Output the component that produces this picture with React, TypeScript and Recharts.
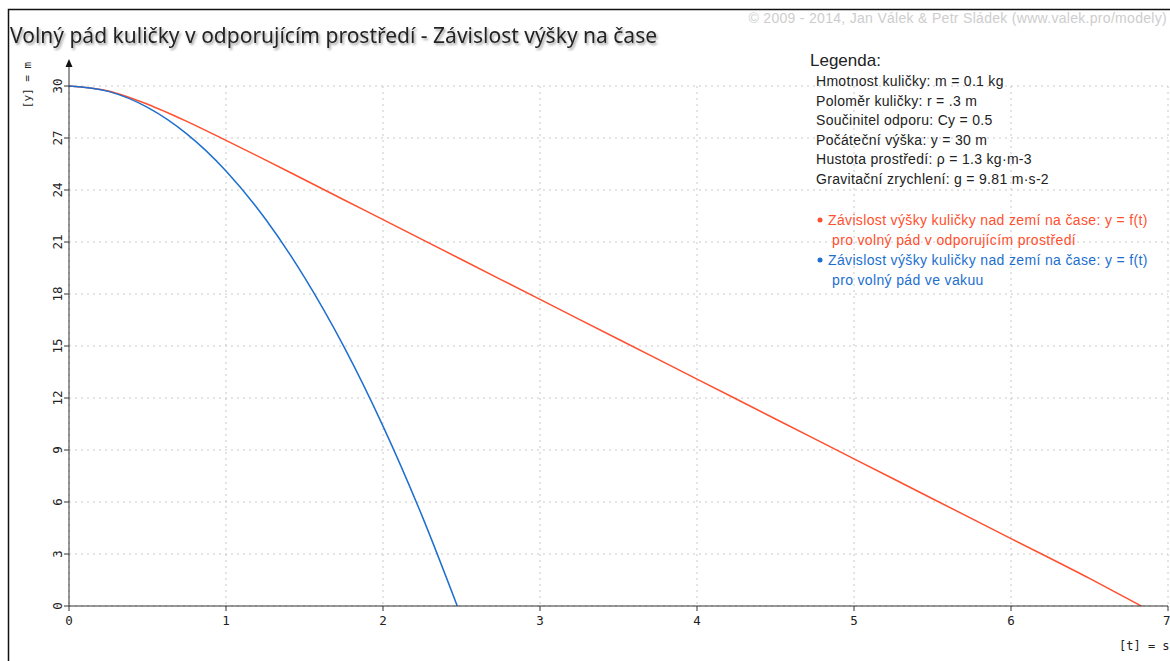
import React from 'react'
import { LineChart, Line, XAxis, YAxis, CartesianGrid } from 'recharts'

// čas [s] a výška [m] – pád v odporujícím prostředí
const dragTime = [0, 0.25, 0.5, 0.75, 1, 1.25, 1.5, 1.75, 2, 2.5, 3, 3.5, 4, 4.5, 5, 5.5, 6, 6.5, 6.83]
const dragHeight = [30, 29.71, 28.95, 27.96, 26.86, 25.74, 24.59, 23.44, 22.29, 19.99, 17.69, 15.39, 13.09, 10.79, 8.49, 6.19, 3.89, 1.59, 0]

// pád ve vakuu
const vacuumTime = [0, 0.25, 0.5, 0.75, 1, 1.25, 1.5, 1.75, 2, 2.25, 2.473]
const vacuumHeight = [30, 29.69, 28.77, 27.24, 25.1, 22.34, 18.96, 14.98, 10.38, 5.17, 0]

const xTicks = [0, 1, 2, 3, 4, 5, 6, 7]
const yTicks = [0, 3, 6, 9, 12, 15, 18, 21, 24, 27, 30]

const params = [
  'Hmotnost kuličky: m = 0.1 kg',
  'Poloměr kuličky: r = .3 m',
  'Součinitel odporu: Cy = 0.5',
  'Počáteční výška: y = 30 m',
  'Hustota prostředí: ρ = 1.3 kg·m-3',
  'Gravitační zrychlení: g = 9.81 m·s-2',
]

const RED = '#ff4f2e'
const BLUE = '#1c6fcf'
const MONO = '"DejaVu Sans Mono", monospace'
const SANS = '"Liberation Sans", Arial, sans-serif'

const dragData = dragTime.map((t, i) => ({ t, y: dragHeight[i] }))
const vacuumData = vacuumTime.map((t, i) => ({ t, y: vacuumHeight[i] }))

const YTick = (props: any) => {
  const { x, y, payload } = props
  return (
    <text x={x} y={y} transform={`rotate(-90, ${x}, ${y})`} textAnchor="middle"
      fontFamily={MONO} fontSize={12.5} fill="#222">
      {payload.value}
    </text>
  )
}

export default function App() {
  return (
    <div style={{ position: 'fixed', left: 0, top: 0, width: 1170, height: 661, background: '#fff' }}>
      <LineChart width={1170} height={661} margin={{ top: 86, right: 2, bottom: 25, left: 0 }}>
        <CartesianGrid stroke="#c8c8c8" strokeDasharray="2 4" />
        <XAxis type="number" dataKey="t" domain={[0, 7]} ticks={xTicks} allowDataOverflow height={30}
          stroke="#333" tickSize={5} tickMargin={5}
          tick={{ fontFamily: MONO, fontSize: 12.5, fill: '#222' }} />
        <YAxis type="number" dataKey="y" domain={[0, 30]} ticks={yTicks} width={69}
          stroke="#333" tickSize={5} tickMargin={2} tick={<YTick />} />
        <Line data={dragData} dataKey="y" type="monotone" stroke={RED} strokeWidth={1.5}
          dot={false} isAnimationActive={false} />
        <Line data={vacuumData} dataKey="y" type="monotone" stroke={BLUE} strokeWidth={1.5}
          dot={false} isAnimationActive={false} />
      </LineChart>

      <svg width={1170} height={661} style={{ position: 'absolute', left: 0, top: 0, pointerEvents: 'none' }}>
        <defs>
          <filter id="shadow" x="-5%" y="-30%" width="110%" height="160%">
            <feDropShadow dx="1.5" dy="2" stdDeviation="1" floodColor="#777" floodOpacity="0.7" />
          </filter>
        </defs>
        {/* rámeček */}
        <path d="M8.5 700 L8.5 9.5 L1200 9.5" fill="none" stroke="#111" strokeWidth={1.5} />
        <text x={1167} y={23} textAnchor="end" fontFamily={SANS} fontSize={14} letterSpacing={0.3} fill="#cdcdcd">
          © 2009 - 2014, Jan Válek &amp; Petr Sládek (www.valek.pro/modely)
        </text>
        <text x={10} y={43} fontFamily='"Noto Sans", sans-serif' fontSize={21} fill="#222" filter="url(#shadow)">
          Volný pád kuličky v odporujícím prostředí - Závislost výšky na čase
        </text>

        {/* šipka osy y */}
        <line x1={69} y1={86} x2={69} y2={66} stroke="#333" strokeWidth={1} />
        <path d="M69 59 L65.5 67 L72.5 67 Z" fill="#111" />
        <text x={31} y={85} transform="rotate(-90, 31, 85)" textAnchor="middle"
          fontFamily={MONO} fontSize={11} fill="#222">[y] = m</text>
        <text x={1119} y={650} fontFamily={MONO} fontSize={12} fill="#222">[t] = s</text>

        {/* legenda */}
        <text x={810} y={66} fontFamily={SANS} fontSize={17} fill="#222">Legenda:</text>
        {params.map((p, i) => (
          <text key={p} x={816} y={86 + i * 19.6} fontFamily={SANS} fontSize={14} letterSpacing={0.3} fill="#222">{p}</text>
        ))}
        <circle cx={820} cy={220} r={2.5} fill={RED} />
        <text x={828} y={225} fontFamily={SANS} fontSize={14} letterSpacing={0.35} fill={RED}>Závislost výšky kuličky nad zemí na čase: y = f(t)</text>
        <text x={832} y={245} fontFamily={SANS} fontSize={14} letterSpacing={0.35} fill={RED}>pro volný pád v odporujícím prostředí</text>
        <circle cx={820} cy={260} r={2.5} fill={BLUE} />
        <text x={828} y={265} fontFamily={SANS} fontSize={14} letterSpacing={0.35} fill={BLUE}>Závislost výšky kuličky nad zemí na čase: y = f(t)</text>
        <text x={832} y={285} fontFamily={SANS} fontSize={14} letterSpacing={0.35} fill={BLUE}>pro volný pád ve vakuu</text>
      </svg>
    </div>
  )
}
